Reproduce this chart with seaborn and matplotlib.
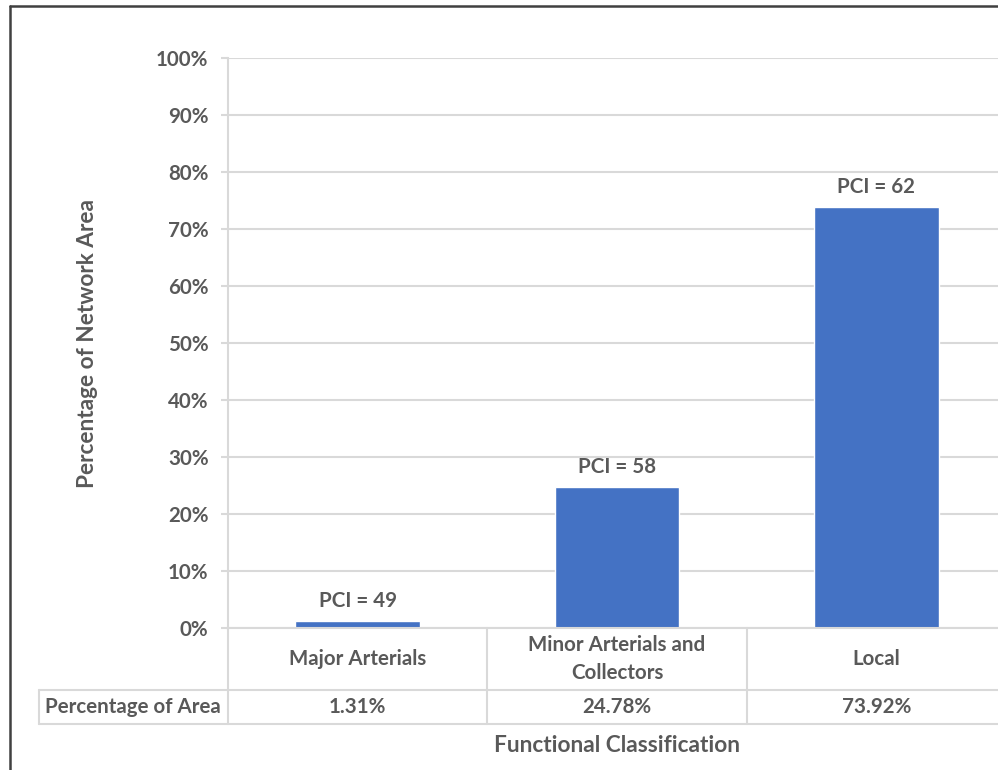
import pandas as pd
import matplotlib.pyplot as plt
import seaborn as sns
from matplotlib.lines import Line2D
import matplotlib.transforms as mtransforms

# chart data
categories = ["Major Arterials", "Minor Arterials and\nCollectors", "Local"]
area_pct = [1.31, 24.78, 73.92]
pci = [49, 58, 62]
row_label = "Percentage of Area"
y_ticks = list(range(0, 101, 10))

W, H = 998, 770
TXT = "#595959"
GRID = "#d9d9d9"
BAR = "#4472C4"
FS = 14.8

sns.set_theme(style="white")
plt.rcParams['font.family'] = ['Lato', 'DejaVu Sans']
plt.rcParams['font.weight'] = 'bold'
plt.rcParams['font.size'] = FS


def px_rect(x0, y0, x1, y1):
    # pixel box (origin top-left) -> figure fraction [l, b, w, h]
    return [x0 / W, 1 - y1 / H, (x1 - x0) / W, (y1 - y0) / H]


fig = plt.figure(figsize=(W / 100, H / 100), dpi=100)
ax = fig.add_axes(px_rect(228, 58, 1006, 628))

df = pd.DataFrame({"cls": categories, "pct": area_pct})
sns.barplot(data=df, x="cls", y="pct", color=BAR, saturation=1,
            width=0.48, errorbar=None, ax=ax)

ax.set_xlim(-0.5, 2.5)
ax.set_ylim(0, 100)
ax.set_yticks(y_ticks)
ax.set_yticklabels([f"{t}%" for t in y_ticks])
ax.set_xticks([])
ax.set_xlabel("")
ax.set_ylabel("")
ax.grid(axis="y", color=GRID, lw=1.5)
ax.set_axisbelow(True)
for s in ["top", "right"]:
    ax.spines[s].set_visible(False)
for s in ["left", "bottom"]:
    ax.spines[s].set_color(GRID)
    ax.spines[s].set_linewidth(1.5)
ax.tick_params(axis="y", left=True, length=5, width=1.5, color=GRID, pad=9,
               labelsize=FS, labelcolor=TXT)

# bar labels
for i, (v, p) in enumerate(zip(area_pct, pci)):
    ax.annotate(f"PCI = {p}", xy=(i, v), xytext=(0, 14), textcoords="offset points",
                ha="center", va="center", color=TXT, fontsize=FS, fontweight="bold")

# data table under the axis
ph = 570.0  # plot height in px
pw = 778.0
r1 = (628 - 690) / ph
r2 = (628 - 724) / ph
tleft = (39 - 228) / pw
blend = mtransforms.blended_transform_factory(ax.transData, ax.transAxes)
line_kw = dict(color=GRID, lw=1.5, clip_on=False)
for xb in [-0.5, 0.5, 1.5, 2.5]:
    ax.plot([xb, xb], [0, r2], transform=blend, **line_kw)
for yb in [r1, r2]:
    ax.plot([tleft, 1], [yb, yb], transform=ax.transAxes, **line_kw)
ax.plot([tleft, tleft], [r1, r2], transform=ax.transAxes, **line_kw)

for i, (c, v) in enumerate(zip(categories, area_pct)):
    ax.text(i, (628 - 659) / ph, c, transform=blend, ha="center", va="center",
            color=TXT, fontsize=FS, fontweight="bold", linespacing=1.55)
    ax.text(i, (628 - 707) / ph, f"{v:.2f}%", transform=blend, ha="center", va="center",
            color=TXT, fontsize=FS, fontweight="bold")
ax.text((133 - 228) / pw, (628 - 707) / ph, row_label, transform=ax.transAxes,
        ha="center", va="center", color=TXT, fontsize=FS, fontweight="bold")

# axis titles
ax.text(0.5, (628 - 746) / ph, "Functional Classification", transform=ax.transAxes,
        ha="center", va="center", color=TXT, fontsize=16.3, fontweight="bold")
ax.text((88 - 228) / pw, 0.5, "Percentage of Network Area", transform=ax.transAxes,
        rotation=90, ha="center", va="center", color=TXT, fontsize=16.3, fontweight="bold")

# chart area border (cropped at right and bottom)
bc = "#404040"
fig.add_artist(Line2D([10 / W, 10 / W], [0, 1 - 6 / H], transform=fig.transFigure,
                      color=bc, lw=1.8))
fig.add_artist(Line2D([10 / W, 1], [1 - 6 / H, 1 - 6 / H], transform=fig.transFigure,
                      color=bc, lw=1.8))

fig.savefig("out.png", dpi=100)
